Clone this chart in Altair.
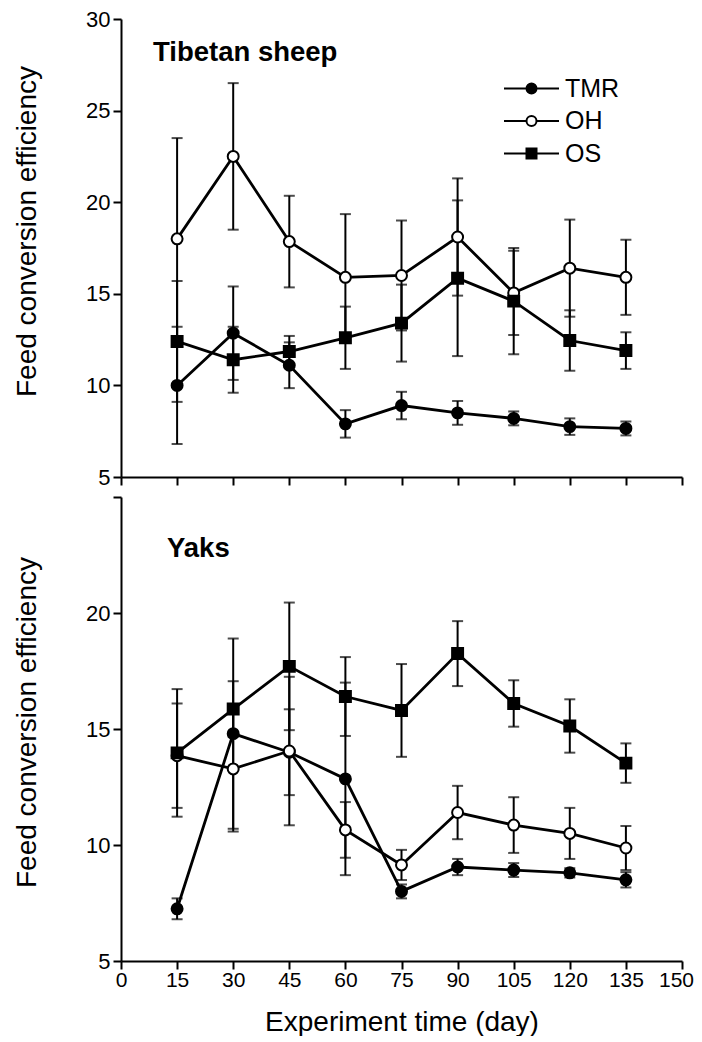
import altair as alt
import pandas as pd

# ---------------- data ----------------
days = [15, 30, 45, 60, 75, 90, 105, 120, 135]
groups = ["TMR", "OH", "OS"]

sheep_tmr = [10.0, 12.85, 11.1, 7.9, 8.9, 8.5, 8.2, 7.75, 7.65]
sheep_tmr_err = [3.2, 2.55, 1.25, 0.75, 0.75, 0.65, 0.38, 0.45, 0.38]
sheep_oh = [18.0, 22.5, 17.85, 15.9, 16.0, 18.1, 15.05, 16.4, 15.9]
sheep_oh_err = [5.5, 4.0, 2.5, 3.45, 3.0, 3.2, 2.3, 2.65, 2.05]
sheep_os = [12.4, 11.4, 11.85, 12.6, 13.4, 15.85, 14.6, 12.45, 11.9]
sheep_os_err = [3.3, 1.8, 0.85, 1.7, 2.1, 4.25, 2.9, 1.65, 1.0]

yak_tmr = [7.25, 14.8, 14.0, 12.85, 8.0, 9.05, 8.92, 8.8, 8.5]
yak_tmr_err = [0.45, 4.1, 1.85, 4.15, 0.3, 0.35, 0.3, 0.2, 0.33]
yak_oh = [13.85, 13.28, 14.05, 10.65, 9.14, 11.4, 10.86, 10.5, 9.87]
yak_oh_err = [2.25, 2.7, 3.2, 1.2, 0.65, 1.15, 1.2, 1.1, 0.95]
yak_os = [13.97, 15.86, 17.7, 16.4, 15.8, 18.25, 16.1, 15.13, 13.53]
yak_os_err = [2.75, 1.2, 2.75, 1.7, 2.0, 1.4, 1.0, 1.15, 0.85]

x_ticks = [0, 15, 30, 45, 60, 75, 90, 105, 120, 135, 150]
sheep_y_ticks = [5, 10, 15, 20, 25, 30]
yak_y_ticks = [5, 10, 15, 20, 25]

FONT = "Liberation Sans"


def build_df(series):
    rows = []
    for g, (vals, errs) in zip(groups, series):
        for d, v, e in zip(days, vals, errs):
            rows.append({"day": d, "value": v, "err": e, "group": g})
    return pd.DataFrame(rows)


sheep_df = build_df([(sheep_tmr, sheep_tmr_err), (sheep_oh, sheep_oh_err), (sheep_os, sheep_os_err)])
yak_df = build_df([(yak_tmr, yak_tmr_err), (yak_oh, yak_oh_err), (yak_os, yak_os_err)])

# legend symbols: line with marker in the middle
LEG_CIRCLE = "M-5.5,0H-1M1,0H5.5M1,0A1,1,0,1,1,-1,0A1,1,0,1,1,1,0Z"
LEG_SQUARE = "M-5.5,0H-1M1,0H5.5M-1,-1H1V1H-1Z"


def panel(df, ymax, yticks, name, title_dx, title_dy, show_x, height, with_legend, title_y, hide_label=None):
    xscale = alt.Scale(domain=[0, 150], nice=False, zero=False)
    yscale = alt.Scale(domain=[5, ymax], nice=False, zero=False)
    xaxis = alt.Axis(
        values=x_ticks, labels=show_x,
        title="Experiment time (day)" if show_x else None,
        labelOffset={"condition": {"test": "datum.value == 150", "value": -6}, "value": 0},
    )
    yargs = dict(values=yticks, title="Feed conversion efficiency", titleY=title_y)
    if hide_label is not None:
        yargs["labelExpr"] = f"datum.value == {hide_label} ? '' : datum.label"
    yaxis = alt.Axis(**yargs)

    base = alt.Chart(df).transform_calculate(
        lo="datum.value - datum.err", hi="datum.value + datum.err"
    )
    x = alt.X("day:Q", scale=xscale, axis=xaxis)
    y = alt.Y("value:Q", scale=yscale, axis=yaxis)

    lines = base.mark_line(color="black", strokeWidth=2.8).encode(x=x, y=y, detail="group:N")
    bars = base.mark_rule(color="black", strokeWidth=2).encode(
        x="day:Q", y=alt.Y("lo:Q"), y2="hi:Q")
    cap_lo = base.mark_tick(orient="horizontal", color="black", size=11, thickness=2).encode(
        x="day:Q", y="lo:Q")
    cap_hi = base.mark_tick(orient="horizontal", color="black", size=11, thickness=2).encode(
        x="day:Q", y="hi:Q")

    pt_style = dict(stroke="black", strokeWidth=2, size=120, opacity=1, fillOpacity=1)
    p_tmr = base.transform_filter(alt.datum.group == "TMR").mark_point(
        shape="circle", fill="black", **pt_style).encode(x="day:Q", y="value:Q")
    p_oh = base.transform_filter(alt.datum.group == "OH").mark_point(
        shape="circle", fill="white", **pt_style).encode(x="day:Q", y="value:Q")
    p_os = base.transform_filter(alt.datum.group == "OS").mark_point(
        shape="square", fill="black", **pt_style).encode(x="day:Q", y="value:Q")

    layers = [lines, bars, cap_lo, cap_hi, p_tmr, p_oh, p_os]

    if with_legend:
        leg = alt.Legend(
            orient="none", legendX=398, legendY=57, title=None,
            labelFont=FONT, labelFontSize=25, labelColor="black",
            symbolSize=100, symbolStrokeWidth=2, symbolStrokeColor="black",
            labelOffset=21, rowPadding=6.5, padding=0,
        )
        dummy = base.transform_filter("false").mark_point(
            strokeWidth=2, opacity=1, filled=True
        ).encode(
            x="day:Q", y="value:Q",
            shape=alt.Shape("group:N", scale=alt.Scale(domain=groups,
                            range=[LEG_CIRCLE, LEG_CIRCLE, LEG_SQUARE]), legend=leg),
            fill=alt.Fill("group:N", scale=alt.Scale(domain=groups,
                          range=["black", "white", "black"]), legend=leg),
            stroke=alt.Stroke("group:N", scale=alt.Scale(domain=groups,
                              range=["black", "black", "black"]), legend=leg),
        )
        layers.append(dummy)

    return alt.layer(*layers).properties(
        width=561, height=height,
        title=alt.TitleParams(
            text=name, anchor="start", orient="top", frame="group", offset=0,
            dx=title_dx, dy=title_dy, font=FONT, fontSize=27.5, fontWeight="bold",
            color="black", baseline="top",
        ),
    )


top = panel(sheep_df, 30, sheep_y_ticks, "Tibetan sheep", 32, 58, False, 458, True, 212)
bottom = panel(yak_df, 25, yak_y_ticks, "Yaks", 46, 66, True, 464, False, 225, hide_label=25)

chart = alt.vconcat(top, bottom, spacing=8).properties(
    padding={"left": 5, "top": 0, "right": 0, "bottom": 0},
    background="white",
).configure_view(stroke=None).configure_axis(
    grid=False, labelFlush=False,
    domainColor="black", domainWidth=2,
    tickColor="black", tickWidth=2, tickSize=8,
    labelFont=FONT, labelFontSize=22, labelColor="black", labelPadding=3,
    titleFont=FONT, titleFontSize=28, titleFontWeight="normal", titleColor="black",
    titlePadding=44,
).configure_axisX(labelPadding=0, titlePadding=18, labelFontSize=21)

chart.save("out.html", embed_options={"renderer": "svg", "actions": False})
